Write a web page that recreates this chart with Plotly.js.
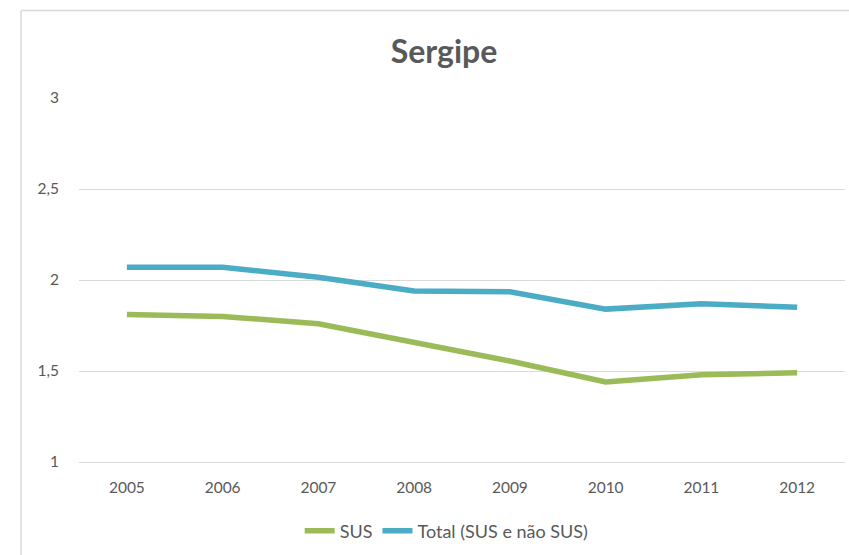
<!DOCTYPE html>
<html>
<head>
<meta charset="utf-8">
<script src="https://cdn.plot.ly/plotly-3.0.1.min.js"></script>
<style>html,body{margin:0;padding:0;background:#fff;}#chart{width:849px;height:555px;}</style>
</head>
<body>
<div id="chart"></div>
<script>
const years = ["2005","2006","2007","2008","2009","2010","2011","2012"];
const sus = [1.81, 1.80, 1.76, 1.66, 1.555, 1.44, 1.48, 1.49];
const total = [2.07, 2.07, 2.015, 1.94, 1.935, 1.84, 1.87, 1.85];
const seriesNames = ["SUS", "Total (SUS e não SUS)"];
const yTicks = [1, 1.5, 2, 2.5, 3];
const yTickText = ["1", "1,5", "2", "2,5", "3"];

const fontFam = "Lato, 'Open Sans', sans-serif";
const gray = "#595959";

const traces = [
  {x: years, y: sus, name: seriesNames[0], type: "scatter", mode: "lines",
   line: {color: "#9BBB59", width: 5.5}},
  {x: years, y: total, name: seriesNames[1], type: "scatter", mode: "lines",
   line: {color: "#4BACC6", width: 5.5}}
];

const layout = {
  width: 849, height: 555,
  margin: {l: 79, r: 4, t: 98, b: 93},
  paper_bgcolor: "#fff", plot_bgcolor: "#fff",
  font: {family: fontFam, color: gray, size: 15},
  title: {text: "<b>Sergipe</b>", font: {family: fontFam, size: 32, color: gray},
          x: 0.523, xref: "container", xanchor: "center",
          y: 1 - 52/555, yref: "container", yanchor: "middle"},
  xaxis: {type: "category", range: [-0.5, 7.5], showgrid: false, zeroline: false,
          showline: true, linecolor: "#d9d9d9", linewidth: 1,
          ticks: "", ticklabelstandoff: 11, tickfont: {size: 15.5, color: gray}},
  yaxis: {range: [1, 3], tickvals: yTicks, ticktext: yTickText, showgrid: true,
          gridcolor: "#d9d9d9", gridwidth: 1, zeroline: false, showline: false,
          ticks: "", ticklabelstandoff: 19, tickfont: {size: 15.5, color: gray}},
  showlegend: true,
  legend: {orientation: "h", x: 0.48, xanchor: "center", y: (462-531)/364, yanchor: "middle",
           font: {size: 18, color: gray}, itemwidth: 30, tracegroupgap: 0},
  shapes: [
    {type: "line", xref: "paper", yref: "paper", x0: -0.0757, x1: -0.0757, y0: -0.4, y1: 1.2407,
     line: {color: "#d9d9d9", width: 1.5}},
    {type: "line", xref: "paper", yref: "paper", x0: -0.0757, x1: 1.1, y0: 1.2407, y1: 1.2407,
     line: {color: "#d9d9d9", width: 1.5}}
  ]
};

Plotly.newPlot("chart", traces, layout, {displayModeBar: false, staticPlot: true});
</script>
</body>
</html>
